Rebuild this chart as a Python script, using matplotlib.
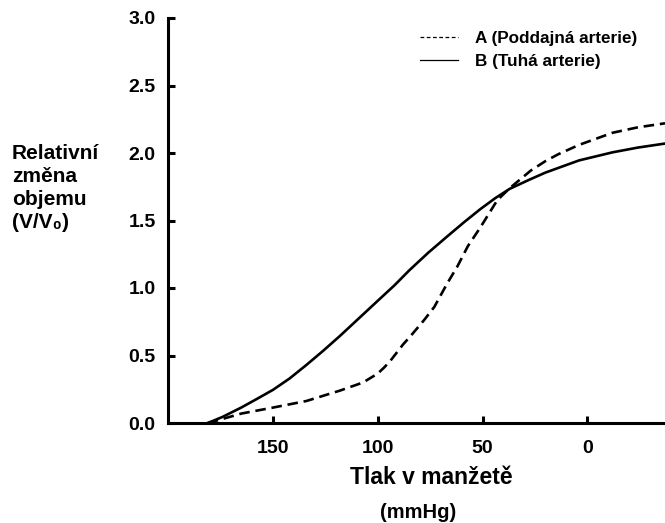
import matplotlib.pyplot as plt
from matplotlib.lines import Line2D

plt.rcParams['font.family'] = ['Liberation Sans', 'DejaVu Sans']
plt.rcParams['font.weight'] = 'bold'

# tlak v manzete (mmHg) a relativni zmena objemu
tlak_b = [181, 174, 165, 158, 150, 142, 134, 126, 118, 109, 100, 92, 85, 76, 67, 59, 51, 44, 37, 28, 20, 12, 4, -12, -24, -37]
objem_b = [0.0, 0.045, 0.115, 0.175, 0.245, 0.33, 0.43, 0.535, 0.645, 0.775, 0.905, 1.02, 1.13, 1.26, 1.38, 1.485, 1.585, 1.665, 1.735, 1.80, 1.855, 1.90, 1.945, 2.005, 2.04, 2.07]

tlak_a = [181, 174, 165, 150, 134, 118, 107, 100, 97, 94, 91, 88, 84, 78, 73, 67, 62, 57, 51, 43, 37, 27, 20, 14, 4, -12, -24, -37]
objem_a = [0.0, 0.03, 0.07, 0.114, 0.163, 0.24, 0.30, 0.366, 0.41, 0.46, 0.52, 0.58, 0.65, 0.76, 0.86, 1.03, 1.16, 1.31, 1.45, 1.65, 1.74, 1.87, 1.94, 1.99, 2.06, 2.15, 2.19, 2.22]

xticks = [150, 100, 50, 0]
yticks = [0.0, 0.5, 1.0, 1.5, 2.0, 2.5, 3.0]

fig = plt.figure(figsize=(6.65, 5.23), dpi=100)
ax = fig.add_axes([168 / 665, 100 / 523, 497 / 665, 405 / 523])

ax.plot(tlak_a, objem_a, color='black', lw=1.9, linestyle=(0, (4, 2.2)))
ax.plot(tlak_b, objem_b, color='black', lw=1.9)

ax.set_xlim(200, -37)
ax.set_ylim(0, 3.0)
ax.set_xticks(xticks)
ax.set_yticks(yticks)
ax.set_yticklabels(['%.1f' % v for v in yticks])

for s in ['top', 'right']:
    ax.spines[s].set_visible(False)
for s in ['left', 'bottom']:
    ax.spines[s].set_linewidth(2.2)
ax.tick_params(direction='in', width=2.2, length=5, labelsize=14)
ax.tick_params(axis='x', pad=12)
ax.tick_params(axis='y', pad=9)

fig.text(431 / 665, 1 - 478 / 523, 'Tlak v manžetě', ha='center', va='center', fontsize=16.5, fontweight='bold')
fig.text(418 / 665, 1 - 513 / 523, '(mmHg)', ha='center', va='center', fontsize=14.5, fontweight='bold')
fig.text(12 / 665, 1 - 188 / 523, 'Relativní\nzměna\nobjemu\n(V/V₀)', ha='left', va='center',
         fontsize=15, fontweight='bold', linespacing=1.25)

handles = [Line2D([], [], color='black', lw=0.9, linestyle=(0, (3, 2))),
           Line2D([], [], color='black', lw=0.9)]
ax.legend(handles, ['A (Poddajná arterie)', 'B (Tuhá arterie)'], loc='upper left',
          bbox_to_anchor=(420 / 665, 1 - 31 / 523), bbox_transform=fig.transFigure,
          frameon=False, prop={'size': 12.3, 'weight': 'bold'}, handlelength=2.2,
          handletextpad=1.0, labelspacing=0.45, borderpad=0, borderaxespad=0)

fig.savefig('out.png', dpi=100)
